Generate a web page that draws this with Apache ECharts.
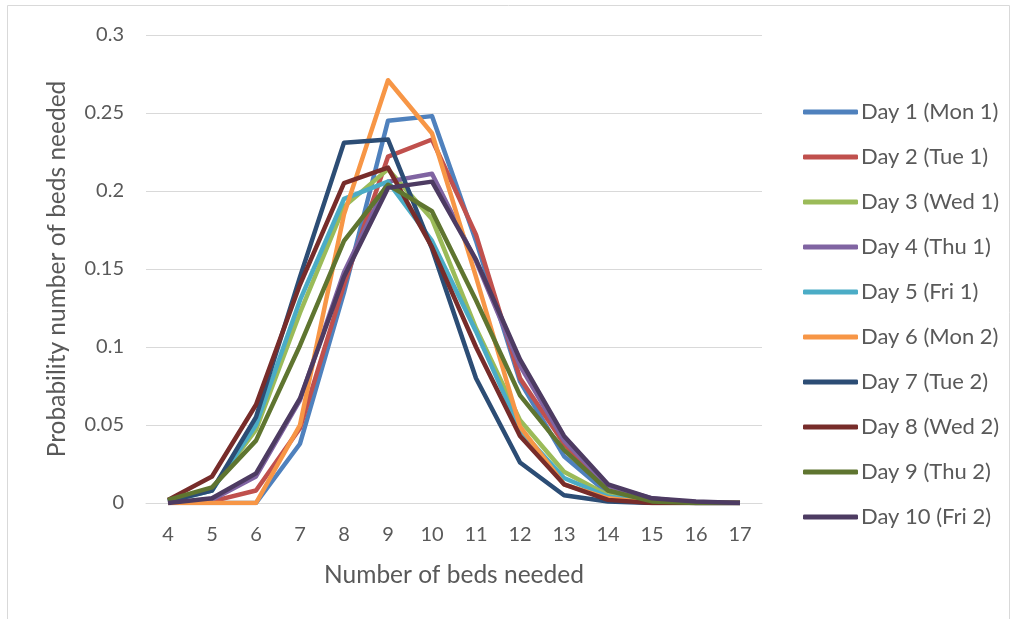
<!DOCTYPE html>
<html>
<head>
<meta charset="utf-8">
<script src="https://cdn.jsdelivr.net/npm/echarts@6/dist/echarts.min.js"></script>
<style>
html,body{margin:0;padding:0;background:#fff;}
#chart{width:1016px;height:619px;}
</style>
</head>
<body>
<div id="chart"></div>
<script>
const categories = ['4','5','6','7','8','9','10','11','12','13','14','15','16','17'];
const seriesNames = ['Day 1 (Mon 1)','Day 2 (Tue 1)','Day 3 (Wed 1)','Day 4 (Thu 1)','Day 5 (Fri 1)','Day 6 (Mon 2)','Day 7 (Tue 2)','Day 8 (Wed 2)','Day 9 (Thu 2)','Day 10 (Fri 2)'];
const day1  = [0, 0, 0, 0.038, 0.135, 0.245, 0.248, 0.168, 0.078, 0.030, 0.006, 0.001, 0, 0];
const day2  = [0, 0.001, 0.008, 0.048, 0.140, 0.222, 0.233, 0.172, 0.080, 0.038, 0.008, 0.001, 0, 0];
const day3  = [0.001, 0.009, 0.047, 0.122, 0.190, 0.214, 0.182, 0.112, 0.053, 0.020, 0.005, 0.001, 0, 0];
const day4  = [0, 0.002, 0.017, 0.066, 0.148, 0.206, 0.211, 0.155, 0.088, 0.040, 0.011, 0.003, 0, 0];
const day5  = [0.001, 0.008, 0.050, 0.130, 0.195, 0.206, 0.168, 0.110, 0.047, 0.016, 0.004, 0.001, 0, 0];
const day6  = [0, 0, 0, 0.050, 0.185, 0.271, 0.237, 0.145, 0.049, 0.012, 0.003, 0, 0, 0];
const day7  = [0.001, 0.008, 0.055, 0.145, 0.231, 0.233, 0.163, 0.080, 0.026, 0.005, 0.001, 0, 0, 0];
const day8  = [0.002, 0.017, 0.063, 0.140, 0.205, 0.215, 0.164, 0.100, 0.043, 0.012, 0.002, 0, 0, 0];
const day9  = [0.002, 0.010, 0.040, 0.101, 0.168, 0.204, 0.187, 0.130, 0.069, 0.034, 0.008, 0.001, 0, 0];
const day10 = [0, 0.003, 0.019, 0.067, 0.145, 0.202, 0.206, 0.156, 0.092, 0.043, 0.012, 0.003, 0.001, 0];
const allData = [day1, day2, day3, day4, day5, day6, day7, day8, day9, day10];
const colors = ['#4F81BD','#C0504D','#9BBB59','#8064A2','#4BACC6','#F79646','#2C4D75','#772C2A','#5F7530','#4D3B62'];

const FONT = 'Lato';
const chart = echarts.init(document.getElementById('chart'));
chart.setOption({
  animation: false,
  color: colors,
  graphic: [{
    type: 'rect',
    shape: {x: 7.5, y: 5.5, width: 1002, height: 640},
    style: {fill: 'none', stroke: '#d9d9d9', lineWidth: 1},
    silent: true
  }],
  grid: {left: 146, right: 254, top: 35, bottom: 116},
  legend: {
    orient: 'vertical',
    left: 798,
    top: 95,
    icon: 'roundRect',
    itemWidth: 55,
    itemHeight: 5,
    itemGap: 21,
    textStyle: {fontFamily: FONT, fontSize: 22, color: '#595959', lineHeight: 24, padding: [0,0,0,-2]},
    data: seriesNames
  },
  xAxis: {
    type: 'category',
    data: categories,
    boundaryGap: true,
    name: 'Number of beds needed',
    nameLocation: 'middle',
    nameGap: 60,
    nameTextStyle: {fontFamily: FONT, fontSize: 24.5, color: '#595959'},
    axisLine: {lineStyle: {color: '#d9d9d9', width: 1}},
    axisTick: {show: false},
    axisLabel: {fontFamily: FONT, fontSize: 20, color: '#595959', margin: 22}
  },
  yAxis: {
    type: 'value',
    min: 0,
    max: 0.3,
    interval: 0.05,
    name: 'Probability number of beds needed',
    nameLocation: 'middle',
    nameGap: 76,
    nameTextStyle: {fontFamily: FONT, fontSize: 24.5, color: '#595959'},
    axisLine: {show: false},
    axisTick: {show: false},
    axisLabel: {fontFamily: FONT, fontSize: 20, color: '#595959', margin: 22,
      formatter: v => String(Math.round(v * 100) / 100)},
    splitLine: {lineStyle: {color: '#d9d9d9', width: 1}}
  },
  series: allData.map((d, i) => ({
    name: seriesNames[i],
    type: 'line',
    data: d,
    symbol: 'none',
    smooth: false,
    lineStyle: {width: 4.5, color: colors[i], join: 'round'},
    itemStyle: {color: colors[i]}
  }))
});
</script>
</body>
</html>
